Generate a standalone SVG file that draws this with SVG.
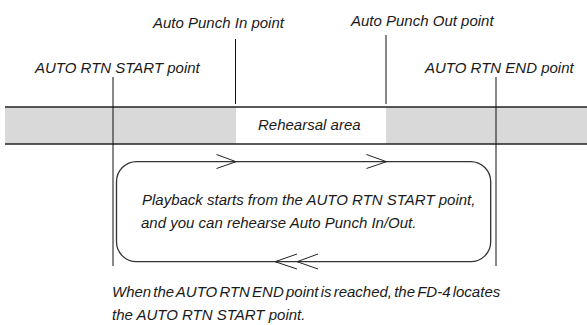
<svg xmlns="http://www.w3.org/2000/svg" width="587" height="325" viewBox="0 0 587 325">
<style>
text{font-family:"Liberation Sans",Arial,sans-serif;font-style:italic;font-size:15px;fill:#1a1a1a}
.band{fill:#d9d9d9}
.hl{stroke:#222;stroke-width:1.5;fill:none}
.vl{stroke:#111;stroke-width:1;fill:none}
.loop{stroke:#333;stroke-width:1.3;fill:none}
.chev{stroke:#222;stroke-width:1;fill:none}
.tight{word-spacing:-2px}
</style>
<rect width="587" height="325" fill="#fff"/>
<g id="band">
<rect class="band" x="5" y="107" width="231" height="37"/>
<rect class="band" x="386" y="107" width="201" height="37"/>
<line class="hl" x1="5" y1="107" x2="587" y2="107"/>
<line class="hl" x1="5" y1="144" x2="587" y2="144"/>
<text x="258" y="130">Rehearsal area</text>
</g>
<g id="start-point">
<text x="35" y="73">AUTO RTN START point</text>
<line class="vl" x1="113" y1="77" x2="113" y2="266"/>
</g>
<g id="punch-in">
<text x="153" y="28">Auto Punch In point</text>
<line class="vl" x1="235.5" y1="39" x2="235.5" y2="104"/>
</g>
<g id="punch-out">
<text x="351" y="26">Auto Punch Out point</text>
<line class="vl" x1="386" y1="35" x2="386" y2="104"/>
</g>
<g id="end-point">
<text x="425" y="73">AUTO RTN END point</text>
<line class="vl" x1="496" y1="77" x2="496" y2="266"/>
</g>
<g id="connectors">
<rect class="loop" x="116.5" y="161.7" width="374.2" height="100" rx="20" ry="20"/>
<polyline class="chev" points="216.5,154.5 236,161.7 216.5,168.5"/>
<polyline class="chev" points="366.5,154.5 386.5,161.7 366.5,168.5"/>
<polyline class="chev" points="297,254 275,261.7 297,269"/>
<polyline class="chev" points="318,254 297,261.7 318,269"/>
</g>
<g id="loop-text">
<text x="142" y="205">Playback starts from the AUTO RTN START point,</text>
<text x="141" y="228">and you can rehearse Auto Punch In/Out.</text>
</g>
<g id="note">
<text class="tight" x="112" y="297">When the AUTO RTN END point is reached, the FD-4 locates</text>
<text x="112" y="320">the AUTO RTN START point.</text>
</g>
</svg>
